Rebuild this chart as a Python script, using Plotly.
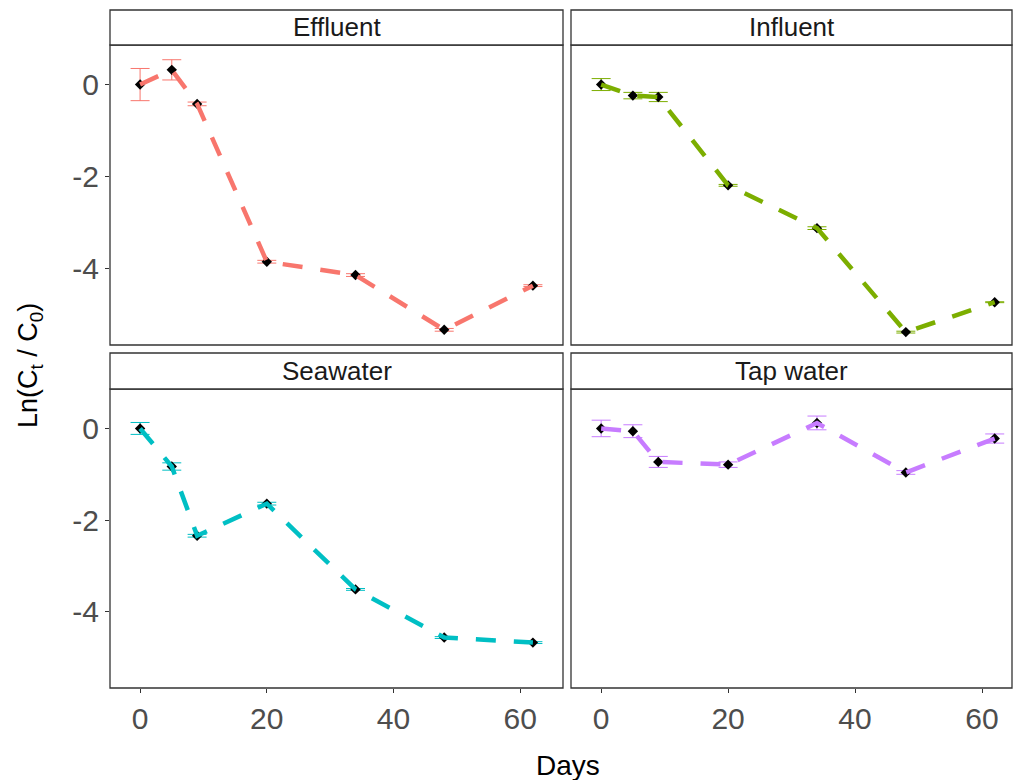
import plotly.graph_objects as go
from plotly.subplots import make_subplots

days = [0, 5, 9, 20, 34, 48, 62]
panels = ["Effluent", "Influent", "Seawater", "Tap water"]
colors = ["#F8766D", "#7CAE00", "#00BFC4", "#C77CFF"]

effluent = [0.0, 0.32, -0.42, -3.85, -4.14, -5.33, -4.37]
effluent_err = [0.35, 0.22, 0.04, 0.03, 0.03, 0.03, 0.02]
influent = [0.0, -0.24, -0.27, -2.19, -3.12, -5.38, -4.73]
influent_err = [0.13, 0.07, 0.10, 0.02, 0.03, 0.02, 0.01]
seawater = [0.0, -0.83, -2.34, -1.64, -3.51, -4.56, -4.67]
seawater_err = [0.13, 0.08, 0.03, 0.03, 0.02, 0.02, 0.02]
tapwater = [0.0, -0.06, -0.73, -0.79, 0.12, -0.96, -0.22]
tapwater_err = [0.18, 0.14, 0.12, 0.06, 0.15, 0.04, 0.10]

values = [effluent, influent, seawater, tapwater]
errors = [effluent_err, influent_err, seawater_err, tapwater_err]

x_ticks = [0, 20, 40, 60]
x_labels = ["0", "20", "40", "60"]
y_ticks = [0, -2, -4]
y_labels = ["0", "-2", "-4"]

W, H = 1013, 780
FONT = "Liberation Sans, Arial, sans-serif"


def px(x):
    return x / W


def py(y):
    return 1 - y / H


fig = make_subplots(rows=2, cols=2)

for i, name in enumerate(panels):
    r, c = i // 2 + 1, i % 2 + 1
    fig.add_trace(go.Scatter(
        x=days, y=values[i], mode="markers",
        marker=dict(size=1, color="rgba(0,0,0,0)"),
        error_y=dict(type="data", array=errors[i], visible=True,
                     color=colors[i], thickness=1, width=9.5),
        showlegend=False, hoverinfo="skip"), row=r, col=c)
    fig.add_trace(go.Scatter(
        x=days, y=values[i], mode="markers",
        marker=dict(symbol="diamond", size=8, color="black"),
        showlegend=False), row=r, col=c)
    fig.add_trace(go.Scatter(
        x=days, y=values[i], mode="lines",
        line=dict(color=colors[i], width=4.5, dash="20px,18px"),
        showlegend=False), row=r, col=c)

# panel geometry in page pixels
colx = [(110, 563), (571, 1012)]
rowy = [(45, 345), (389, 688)]
strip_top = [10, 353]
xr = [[-4.75, 66.75], [-4.75, (1012 - 601) / 6.35]]
yr = [-5.66, 0.86]

for i, name in enumerate(panels):
    r, c = i // 2, i % 2
    xa = "xaxis" if i == 0 else f"xaxis{i+1}"
    ya = "yaxis" if i == 0 else f"yaxis{i+1}"
    x0, x1 = colx[c]
    y0, y1 = rowy[r]
    fig.layout[xa].update(
        domain=[px(x0), px(x1)], range=xr[c], tickvals=x_ticks,
        ticktext=x_labels,
        showticklabels=(r == 1), ticks="outside" if r == 1 else "",
        ticklen=4, tickcolor="#333333", showgrid=False, zeroline=False,
        showline=False, tickfont=dict(family=FONT, size=30, color="#4D4D4D"))
    fig.layout[ya].update(
        domain=[py(y1), py(y0)], range=yr, tickvals=y_ticks,
        ticktext=y_labels,
        showticklabels=(c == 0), ticks="outside" if c == 0 else "",
        ticklen=4, tickcolor="#333333", showgrid=False, zeroline=False,
        showline=False, tickfont=dict(family=FONT, size=30, color="#4D4D4D"))
    # panel border
    fig.add_shape(type="rect", xref="paper", yref="paper",
                  x0=px(x0), x1=px(x1), y0=py(y1), y1=py(y0),
                  line=dict(color="#333333", width=1.3), fillcolor="rgba(0,0,0,0)")
    # strip
    fig.add_shape(type="rect", xref="paper", yref="paper",
                  x0=px(x0), x1=px(x1), y0=py(y0), y1=py(strip_top[r]),
                  line=dict(color="#333333", width=1.3), fillcolor="white")
    fig.add_annotation(x=px((x0 + x1) / 2), y=py((strip_top[r] + y0) / 2),
                       xref="paper", yref="paper", text=name, showarrow=False,
                       xanchor="center", yanchor="middle",
                       font=dict(family=FONT, size=26, color="#1A1A1A"))

fig.add_annotation(x=px(568), y=py(765), xref="paper", yref="paper",
                   text="Days", showarrow=False, xanchor="center", yanchor="middle",
                   font=dict(family=FONT, size=28, color="black"))
fig.add_annotation(x=px(30), y=py(366), xref="paper", yref="paper",
                   text="Ln(C<sub>t</sub> / C<sub>0</sub>)", showarrow=False,
                   textangle=-90, xanchor="center", yanchor="middle",
                   font=dict(family=FONT, size=27, color="black"))

fig.update_layout(width=W, height=H, margin=dict(l=0, r=0, t=0, b=0),
                  plot_bgcolor="white", paper_bgcolor="white")

fig.write_html("out.html",
               config={"displayModeBar": False},
               post_script="document.body.style.margin='0';"
                           "document.body.style.overflow='hidden';")
